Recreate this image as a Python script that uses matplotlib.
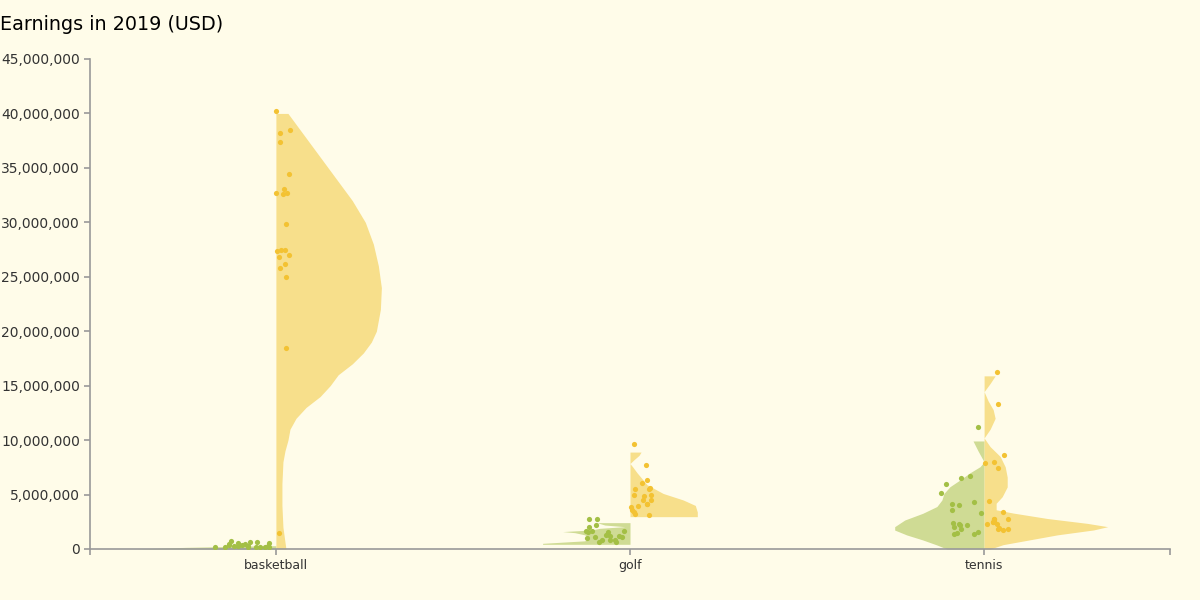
import numpy as np
import matplotlib
matplotlib.use("Agg")
import matplotlib.pyplot as plt
from matplotlib.ticker import FuncFormatter

# ── Data (earnings in millions of USD) ─────────────────────────────
sports = ["basketball", "golf", "tennis"]

# individual athletes (strip points)
basketball_women = [0.2, 0.2, 0.2, 0.25, 0.55, 0.3, 0.45, 0.15, 0.5, 0.3,
                    0.6, 0.35, 0.2, 0.55, 0.4, 0.15, 0.6, 0.3, 0.7, 0.2]
basketball_men = [40.2, 38.5, 38.2, 37.4, 34.4, 33.1, 32.6, 32.7, 32.7, 29.8,
                  27.5, 27.4, 27.5, 27.0, 26.8, 26.2, 25.8, 25.0, 18.5, 1.5]
golf_women = [2.75, 2.75, 2.2, 2.0, 1.55, 1.65, 1.65, 1.65, 1.55, 1.2,
              1.3, 1.1, 1.1, 0.85, 1.0, 0.65, 0.85, 0.8, 0.65, 1.2]
golf_men = [9.6, 7.7, 6.3, 6.1, 5.6, 5.5, 5.5, 5.0, 5.0, 4.9,
            4.5, 4.5, 4.1, 4.1, 3.9, 3.95, 3.6, 3.4, 3.2, 3.1]
tennis_women = [11.2, 6.7, 6.5, 6.0, 5.1, 4.1, 4.3, 4.0, 3.6, 3.3,
                2.4, 2.2, 1.5, 1.35, 2.0, 2.2, 2.3, 1.4, 1.8, 1.6]
tennis_men = [16.3, 13.3, 8.6, 8.0, 7.9, 7.4, 4.4, 3.4, 2.8, 2.8,
              2.8, 2.6, 2.45, 2.45, 2.25, 2.25, 1.8, 1.85, 1.9, 1.75]

# density profiles of the half violins (level in M USD, relative density)
bb_women_level = [0, 0.15, 0.3]
bb_women_dens = [141, 90, 10]
bb_men_level = [0, 2, 4, 6, 8, 9, 10, 11, 12, 13, 14, 15, 16, 17, 18, 19,
                20, 22, 24, 26, 28, 30, 32, 34, 36, 38, 40]
bb_men_dens = [10, 7, 6, 6, 7, 9, 12, 14, 20, 30, 44, 54, 62, 76, 87, 95,
               100, 104, 105, 102, 97, 89, 76, 60, 44, 28, 12]
golf_women_level = [0.43, 0.52, 0.75, 1.0, 1.3, 1.5, 1.6, 1.75, 1.9, 2.05,
                    2.2, 2.42]
golf_women_dens = [87, 87, 45, 40, 45, 55, 67, 38, 30, 5, 25, 33]
golf_men_level = [2.97, 3.4, 4.0, 4.5, 5.1, 5.9, 7.0, 7.5, 7.85, 8.2, 8.6, 8.9]
golf_men_dens = [67, 67, 65, 53, 33, 17, 7, 3, 0, 4, 9, 11]
tennis_women_level = [0, 0.37, 0.83, 1.29, 1.74, 2.05, 2.66, 3.28, 3.9, 4.5,
                      5.1, 5.72, 6.34, 7.0, 7.56, 8.0, 9.0, 9.92]
tennis_women_dens = [37, 47, 61, 77, 89, 89, 79, 61, 47, 42,
                     40, 34, 24, 14, 4, 0, 6, 11]
tennis_men_level = [0, 0.4, 0.8, 1.3, 1.75, 2.05, 2.35, 2.8, 3.3, 3.6, 4.2,
                    4.8, 5.7, 6.6, 7.55, 8.5, 9.4, 10.2, 11.0, 12.0, 12.8,
                    13.6, 14.45, 15.2, 15.9]
tennis_men_dens = [6, 19, 43, 73, 109, 123, 103, 63, 29, 12, 12,
                   18, 23, 23, 21, 16, 6, 0, 6, 11, 9,
                   4, 0, 6, 11]

# ── Style ─────────────────────────────────────────────────────────
BG = "#fffce9"
GREEN_FILL, GREEN_DOT = "#cfdb94", "#a3bf45"
YELLOW_FILL, YELLOW_DOT = "#f7df8b", "#f3c232"
AXIS_COLOR, TEXT_COLOR = "#999999", "#333333"
MAX_HALF = 0.4      # half width (category units) of the densest violin
M = 1e6

women = [basketball_women, golf_women, tennis_women]
men = [basketball_men, golf_men, tennis_men]
profiles_w = [(bb_women_level, bb_women_dens), (golf_women_level, golf_women_dens),
              (tennis_women_level, tennis_women_dens)]
profiles_m = [(bb_men_level, bb_men_dens), (golf_men_level, golf_men_dens),
              (tennis_men_level, tennis_men_dens)]
jitter_w = [0.18, 0.14, 0.127]
jitter_m = [0.04, 0.062, 0.073]

max_dens = max(max(d) for _, d in profiles_w + profiles_m)

fig = plt.figure(figsize=(12, 6), dpi=100, facecolor=BG)
ax = fig.add_axes([0.075, 0.085, 0.9, 0.8167], facecolor=BG)

rng = np.random.default_rng(3)
for i, sport in enumerate(sports):
    lw, dw = profiles_w[i]
    lm, dm = profiles_m[i]
    lw = np.array(lw) * M
    lm = np.array(lm) * M
    hw = np.array(dw) / max_dens * MAX_HALF
    hm = np.array(dm) / max_dens * MAX_HALF
    ax.fill_betweenx(lw, i - hw, i, color=GREEN_FILL, lw=0, zorder=1)
    ax.fill_betweenx(lm, i, i + hm, color=YELLOW_FILL, lw=0, zorder=1)

    # strip points, women to the left, men to the right
    vw = np.array(women[i]) * M
    vm = np.array(men[i]) * M
    xw = i - rng.uniform(0.02, 1, len(vw)) * jitter_w[i]
    xm = i + rng.uniform(0.0, 1, len(vm)) * jitter_m[i]
    ax.scatter(xw, vw, s=14, color=GREEN_DOT, lw=0, zorder=3)
    ax.scatter(xm, vm, s=14, color=YELLOW_DOT, lw=0, zorder=3)

# ── Axes ──────────────────────────────────────────────────────────
ax.set_xlim(-0.525, 2.525)
ax.set_ylim(0, 45 * M)
ax.set_xticks(range(len(sports)))
ax.set_xticklabels(sports)
ax.set_xticks([-0.525, 2.525], minor=True)
ax.set_yticks(np.arange(0, 46, 5) * M)
ax.yaxis.set_major_formatter(FuncFormatter(lambda v, _: f"{int(round(v)):,}"))

for side in ["top", "right"]:
    ax.spines[side].set_visible(False)
for side in ["left", "bottom"]:
    ax.spines[side].set_color(AXIS_COLOR)
    ax.spines[side].set_linewidth(1.2)

ax.tick_params(axis="x", which="both", length=4.3, width=1.2, color=AXIS_COLOR,
               labelcolor=TEXT_COLOR, labelsize=9, pad=3)
ax.tick_params(axis="y", length=4.3, width=1.2, color=AXIS_COLOR,
               labelcolor=TEXT_COLOR, labelsize=10, pad=3)

fig.text(0.0, 1 - 25 / 600, "Earnings in 2019 (USD)", fontsize=13.8,
         ha="left", va="center", color="black")

fig.savefig("out.png", dpi=100, facecolor=BG)
